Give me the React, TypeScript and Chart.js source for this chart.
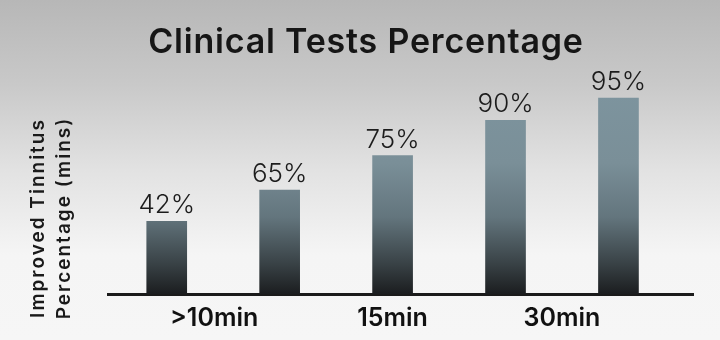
import React, { useEffect, useRef } from "react";
import { Chart, registerables } from "chart.js";

Chart.register(...registerables);

// Five bars
const barSlots = [0, 1, 2, 3, 4];
const valueLabels = ["42%", "65%", "75%", "90%", "95%"];
// bar heights as drawn (0-100 scale of the plot height)
const barHeights = [36, 51.5, 68.5, 86, 97];
// x-axis tick labels and where they sit (in bar-slot units)
const tickLabels = [">10min", "15min", "30min"];
const tickPositions = [0.42, 2, 3.5];
const titleText = "Clinical Tests Percentage";
const yTitleLines = ["Improved Tinnitus", "Percentage (mins)"];

const FONT = "Inter, 'Noto Sans', 'DejaVu Sans', sans-serif";

export default function App() {
  const ref = useRef<HTMLCanvasElement | null>(null);

  useEffect(() => {
    if (!ref.current) return;

    const valueLabelPlugin = {
      id: "valueLabels",
      afterDatasetsDraw(chart: any) {
        const ctx = chart.ctx;
        const meta = chart.getDatasetMeta(0);
        ctx.save();
        ctx.fillStyle = "#1c1c1c";
        ctx.font = `300 26px ${FONT}`;
        ctx.textAlign = "center";
        ctx.textBaseline = "alphabetic";
        meta.data.forEach((el: any, i: number) => {
          ctx.fillText(valueLabels[i], el.x, el.y - 8);
        });
        ctx.restore();
      },
    };

    const textPlugin = {
      id: "texts",
      afterDraw(chart: any) {
        const ctx = chart.ctx;
        ctx.save();
        // title
        ctx.fillStyle = "#161616";
        ctx.font = `600 34px ${FONT}`;
        (ctx as any).letterSpacing = "0.8px";
        ctx.textAlign = "center";
        ctx.textBaseline = "alphabetic";
        ctx.fillText(titleText, 366, 53);
        // rotated y title
        ctx.fillStyle = "#1a1a1a";
        ctx.font = `600 19px ${FONT}`;
        (ctx as any).letterSpacing = "2px";
        const xs = [44, 69.5];
        yTitleLines.forEach((line, i) => {
          ctx.save();
          ctx.translate(xs[i], 218);
          ctx.rotate(-Math.PI / 2);
          ctx.fillText(line, 0, 0);
          ctx.restore();
        });
        ctx.restore();
      },
    };

    const chart = new Chart(ref.current, {
      type: "bar",
      data: {
        datasets: [
          {
            data: barSlots.map((x, i) => ({ x, y: barHeights[i] })),
            barThickness: 40,
            borderWidth: 0,
            backgroundColor: (c: any) => {
              const area = c.chart.chartArea;
              if (!area) return "#5a6a71";
              const g = c.chart.ctx.createLinearGradient(0, area.top, 0, area.bottom);
              g.addColorStop(0, "#7d949e");
              g.addColorStop(0.35, "#7a8f98");
              g.addColorStop(0.62, "#63757d");
              g.addColorStop(0.85, "#394246");
              g.addColorStop(1, "#1b1d1f");
              return g;
            },
          },
        ],
      },
      options: {
        animation: false,
        responsive: false,
        layout: { padding: { left: 108, right: 27, top: 92, bottom: 6 } },
        plugins: {
          legend: { display: false },
          tooltip: { enabled: false },
          title: { display: false },
        },
        scales: {
          x: {
            type: "linear",
            min: -0.52,
            max: 4.66,
            offset: false,
            grid: { display: false },
            border: { display: true, color: "#1b1b1b", width: 3 },
            afterBuildTicks: (axis: any) => {
              axis.ticks = tickPositions.map((v) => ({ value: v }));
            },
            ticks: {
              autoSkip: false,
              maxRotation: 0,
              padding: 1,
              color: "#111111",
              font: { family: FONT, size: 25, weight: "600" },
              callback: (_v: any, i: number) => tickLabels[i],
            },
          },
          y: {
            type: "linear",
            min: 0,
            max: 100,
            display: false,
          },
        },
      },
      plugins: [valueLabelPlugin, textPlugin],
    } as any);

    return () => chart.destroy();
  }, []);

  return (
    <div
      style={{
        position: "fixed",
        left: 0,
        top: 0,
        width: 720,
        height: 340,
        background:
          "linear-gradient(to bottom, #b7b7b7 0%, #c9c9c9 25%, #e2e2e2 50%, #f5f5f5 75%, #f6f6f6 100%)",
      }}
    >
      <canvas ref={ref} width={720} height={340} />
    </div>
  );
}
